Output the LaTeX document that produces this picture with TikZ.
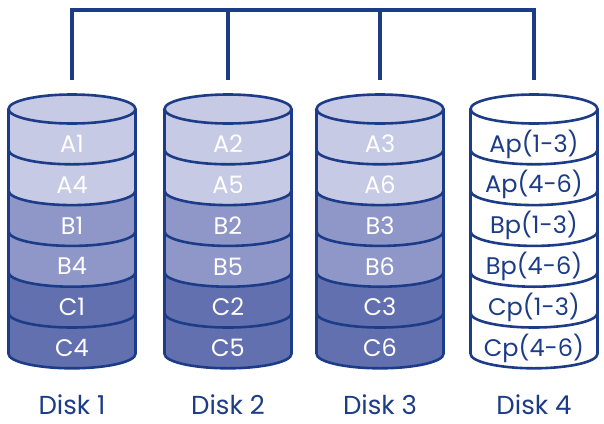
\documentclass[tikz,border=0pt]{standalone}
\usepackage{fontspec}
\setmainfont{Poppins}
\definecolor{navy}{HTML}{1D3C87}
\definecolor{cA}{HTML}{C6CAE4}
\definecolor{cB}{HTML}{8F97C9}
\definecolor{cC}{HTML}{6370B0}
\tikzset{
  outline/.style={draw=navy, line width=2.6pt},
  conn/.style={draw=navy, line width=3.2pt},
  celltxt/.style={font=\fontsize{24}{24}\selectfont, text=white, anchor=center, inner sep=0pt},
  partxt/.style={font=\fontsize{24}{24}\selectfont, text=navy, anchor=center, inner sep=0pt},
  disklbl/.style={font=\fontsize{26}{26}\selectfont, text=navy, anchor=center, inner sep=0pt},
}
\begin{document}
\begin{tikzpicture}[x=1pt,y=1pt]
\useasboundingbox (0,0) rectangle (604,-423);
\def\rx{63.5}
\def\ry{14.5}
\def\ytop{109}
\def\dy{40.8}
% cylinders
\foreach \cx/\d/\fa/\fb/\fc [count=\i] in {
   72/1/cA/cB/cC,
   228/2/cA/cB/cC,
   380/3/cA/cB/cC,
   534/4/white/white/white} {
  \foreach \k/\f in {0/\fa,1/\fa,2/\fb,3/\fb,4/\fc,5/\fc} {
    \pgfmathsetmacro{\ya}{\ytop+\k*\dy}
    \pgfmathsetmacro{\yb}{\ytop+(\k+1)*\dy}
    \fill[\f] (\cx-\rx,-\ya) arc[start angle=180,end angle=360,x radius=\rx,y radius=\ry]
       -- (\cx+\rx,-\yb) arc[start angle=0,end angle=-180,x radius=\rx,y radius=\ry] -- cycle;
  }
  \foreach \k in {1,...,6} {
    \pgfmathsetmacro{\yb}{\ytop+\k*\dy}
    \draw[outline] (\cx-\rx,-\yb) arc[start angle=180,end angle=360,x radius=\rx,y radius=\ry];
  }
  \filldraw[fill=\fa, outline] (\cx,-\ytop) ellipse[x radius=\rx, y radius=\ry];
  \pgfmathsetmacro{\ybot}{\ytop+6*\dy}
  \draw[outline] (\cx-\rx,-\ytop) -- (\cx-\rx,-\ybot);
  \draw[outline] (\cx+\rx,-\ytop) -- (\cx+\rx,-\ybot);
  \coordinate (d\i top) at (\cx,-80);
  \coordinate (d\i bus) at (\cx,-10);
  \node[disklbl] (lbl\i) at (\cx,-405) {Disk \d};
}
% cell texts
\foreach \cx/\i/\a/\b/\c/\dd/\e/\f in {
   72/1/A1/A4/B1/B4/C1/C4,
   228/2/A2/A5/B2/B5/C2/C5,
   380/3/A3/A6/B3/B6/C3/C6} {
  \foreach \t [count=\k from 0] in {\a,\b,\c,\dd,\e,\f} {
    \node[celltxt] (t\i-\k) at (\cx,-\ytop-35-\k*\dy) {\t};
  }
}
\foreach \t [count=\k from 0] in {Ap(1-3),Ap(4-6),Bp(1-3),Bp(4-6),Cp(1-3),Cp(4-6)} {
  \node[partxt] (t4-\k) at (534,-\ytop-35-\k*\dy) {\t};
}
% connectors
\draw[conn, line join=miter] (d1top) -- (d1bus) -- (d4bus) -- (d4top);
\draw[conn] (d2bus) -- (d2top);
\draw[conn] (d3bus) -- (d3top);
\end{tikzpicture}
\end{document}
